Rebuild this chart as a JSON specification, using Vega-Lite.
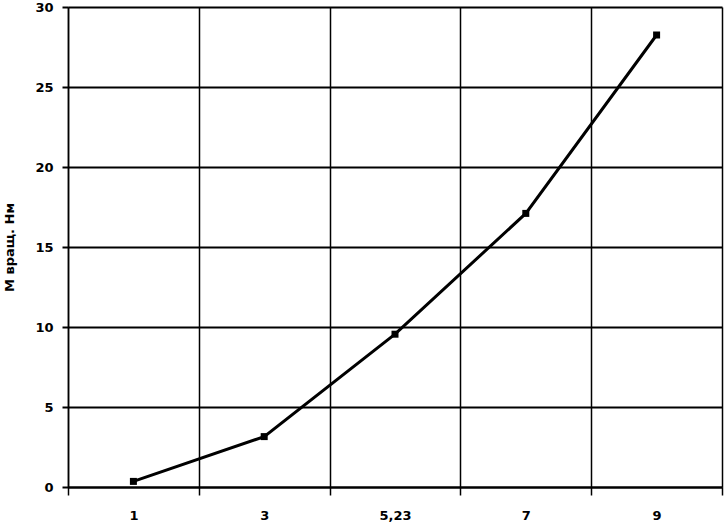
{
  "$schema": "https://vega.github.io/schema/vega-lite/v6.json",
  "width": 654,
  "height": 480,
  "autosize": {"type": "none"},
  "padding": {"left": 68, "top": 7, "right": 2, "bottom": 38},
  "background": "white",
  "config": {
    "view": {"stroke": null},
    "font": "DejaVu Sans",
    "axis": {"labelFont": "DejaVu Sans", "labelFontWeight": "bold", "labelFontSize": 13, "labelColor": "black", "titleColor": "black"}
  },
  "data": {
    "values": [
      {"x": "1", "m": 0.35},
      {"x": "3", "m": 3.15},
      {"x": "5,23", "m": 9.55},
      {"x": "7", "m": 17.1},
      {"x": "9", "m": 28.25}
    ]
  },
  "encoding": {
    "x": {
      "field": "x", "type": "ordinal", "sort": null,
      "scale": {"paddingInner": 0, "paddingOuter": 0},
      "axis": {
        "title": null, "labelAngle": 0, "tickBand": "extent",
        "grid": true, "gridColor": "black", "gridWidth": 1.5, "gridOpacity": 1,
        "domainColor": "black", "domainWidth": 2,
        "ticks": true, "tickColor": "black", "tickSize": 8, "tickWidth": 1.5,
        "labelPadding": 14
      }
    },
    "y": {
      "field": "m", "type": "quantitative",
      "scale": {"domain": [0, 30], "nice": false, "zero": true},
      "axis": {
        "values": [0, 5, 10, 15, 20, 25, 30],
        "title": "М вращ. Нм", "titleFont": "DejaVu Sans", "titleFontWeight": "bold", "titleFontSize": 13,
        "titleX": -59, "titleY": 240, "titleAngle": -90, "titleAlign": "center", "titleBaseline": "middle",
        "grid": true, "gridColor": "black", "gridWidth": 2, "gridOpacity": 1,
        "domainColor": "black", "domainWidth": 1.5,
        "tickColor": "black", "tickSize": 6, "tickWidth": 2,
        "labelPadding": 9
      }
    }
  },
  "layer": [
    {"mark": {"type": "line", "color": "black", "strokeWidth": 3}},
    {"mark": {"type": "square", "color": "black", "opacity": 1, "filled": true, "size": 49}}
  ]
}
